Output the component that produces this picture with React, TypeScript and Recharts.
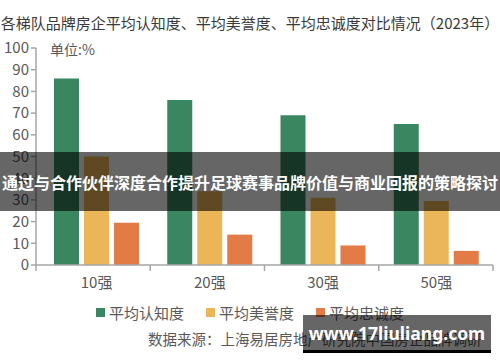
import { BarChart, Bar, XAxis, YAxis } from 'recharts'

const categories = ['10强', '20强', '30强', '50强']
const awareness = [86, 76, 69, 65]
const reputation = [50, 34, 31, 29.5]
const loyalty = [19.5, 14, 9, 6.5]
const yTicks = [0, 10, 20, 30, 40, 50, 60, 70, 80, 90, 100]

const series = [
  { key: 'awareness', name: '平均认知度', color: '#3a8660' },
  { key: 'reputation', name: '平均美誉度', color: '#ebb657' },
  { key: 'loyalty', name: '平均忠诚度', color: '#e27b45' },
]

const title = '各梯队品牌房企平均认知度、平均美誉度、平均忠诚度对比情况（2023年）'
const unitLabel = '单位:%'
const sourceText = '数据来源：上海易居房地产研究院中国房企品牌调研'
const bannerText = '通过与合作伙伴深度合作提升足球赛事品牌价值与商业回报的策略探讨'
const watermark = 'www.17liuliang.com'

const data = categories.map((name, i) => ({
  name,
  awareness: awareness[i],
  reputation: reputation[i],
  loyalty: loyalty[i],
}))

const W = 500
const H = 362
const X_AXIS_H = 30
const margin = { top: 48, right: 7, bottom: 67, left: 0 }
const Y_AXIS_W = 36
const PLOT_LEFT = margin.left + Y_AXIS_W
const PLOT_W = W - margin.right - PLOT_LEFT
const AXIS_Y = H - margin.bottom - X_AXIS_H
const FONT = '"Noto Sans CJK SC", "Noto Sans", sans-serif'
const AXIS_COLOR = '#a6a6a6'
const TEXT_COLOR = '#595959'

function CategoryTick(props: any) {
  const { x, payload, index } = props
  const band = PLOT_W / categories.length
  const left = PLOT_LEFT + index * band
  return (
    <g>
      <line x1={left} x2={left} y1={AXIS_Y} y2={AXIS_Y + 6} stroke={AXIS_COLOR} strokeWidth={1.5} />
      {index === categories.length - 1 && (
        <line x1={left + band} x2={left + band} y1={AXIS_Y} y2={AXIS_Y + 6} stroke={AXIS_COLOR} strokeWidth={1.5} />
      )}
      <text x={x} y={AXIS_Y} dy={23} textAnchor="middle" fontSize={15} fill={TEXT_COLOR} fontFamily={FONT}>
        {payload.value}
      </text>
    </g>
  )
}

export default function App() {
  return (
    <div style={{ position: 'absolute', left: 0, top: 0, width: W, height: H, overflow: 'hidden', background: '#fff', fontFamily: FONT }}>
      <div style={{ position: 'absolute', left: 0, top: 12, width: W, textAlign: 'center', fontSize: 15, color: '#3a3a3a', whiteSpace: 'nowrap' }}>
        {title}
      </div>
      <div style={{ position: 'absolute', left: 50, top: 39, fontSize: 14, color: TEXT_COLOR }}>{unitLabel}</div>

      <BarChart width={W} height={H} data={data} margin={margin} barSize={25} barGap={5} style={{ position: 'absolute', left: 0, top: 0 }}>
        <XAxis
          dataKey="name"
          height={X_AXIS_H}
          padding={{ left: 4, right: 0 }}
          axisLine={{ stroke: AXIS_COLOR, strokeWidth: 1.5 }}
          tickLine={false}
          tick={<CategoryTick />}
          interval={0}
        />
        <YAxis
          width={Y_AXIS_W}
          domain={[0, 100]}
          ticks={yTicks}
          interval={0}
          axisLine={{ stroke: AXIS_COLOR, strokeWidth: 1.5 }}
          tickLine={{ stroke: AXIS_COLOR, strokeWidth: 1.5 }}
          tickSize={5}
          tick={{ fontSize: 15, fill: TEXT_COLOR, fontFamily: FONT }}
        />
        {series.map((s) => (
          <Bar key={s.key} dataKey={s.key} name={s.name} fill={s.color} isAnimationActive={false} />
        ))}
      </BarChart>

      <div style={{ position: 'absolute', left: 96, top: 302, display: 'flex', fontSize: 15, color: TEXT_COLOR, whiteSpace: 'nowrap' }}>
        {series.map((s) => (
          <div key={s.key} style={{ display: 'flex', alignItems: 'center', marginRight: 22 }}>
            <span style={{ width: 9, height: 9, background: s.color, marginRight: 4 }} />
            <span>{s.name}</span>
          </div>
        ))}
      </div>
      <div style={{ position: 'absolute', left: 148, top: 328, fontSize: 14.5, color: TEXT_COLOR, whiteSpace: 'nowrap' }}>{sourceText}</div>

      <div style={{ position: 'absolute', left: 0, top: 152, width: W, height: 59, background: 'rgba(0,0,0,0.6)', display: 'flex', alignItems: 'center', justifyContent: 'center' }}>
        <span style={{ color: '#fff', fontSize: 16, fontWeight: 700, whiteSpace: 'nowrap' }}>{bannerText}</span>
      </div>
      <div style={{ position: 'absolute', left: 303, top: 315, width: 188, height: 35, background: 'rgba(0,0,0,0.6)', borderBottom: '3px solid #000', display: 'flex', alignItems: 'center', justifyContent: 'center' }}>
        <span style={{ color: '#fff', fontSize: 17.5, fontWeight: 700, fontFamily: '"Noto Sans", sans-serif' }}>{watermark}</span>
      </div>
    </div>
  )
}
